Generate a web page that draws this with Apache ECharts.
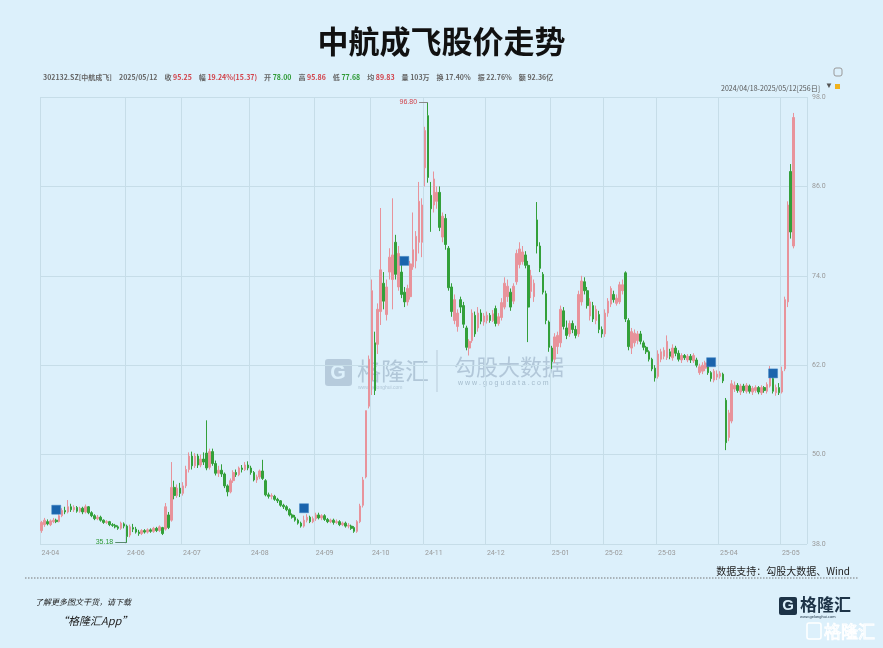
<!DOCTYPE html>
<html><head><meta charset="utf-8">
<script src="https://cdn.jsdelivr.net/npm/echarts@6/dist/echarts.min.js"></script>
<style>html,body{margin:0;padding:0;background:#dcf0fb;}#c{width:883px;height:648px;}</style>
</head><body><div id="c"></div>
<script>
// ---------- DATA ----------
const titleText = '中航成飞股价走势';
const startDate = '2024-04-18';
const endDate = '2025-05-12';
// exchange closures that fall on weekdays
const holidays = ['2024-05-01','2024-05-02','2024-05-03','2024-06-10','2024-09-16','2024-09-17',
  '2024-10-01','2024-10-02','2024-10-03','2024-10-04','2024-10-07','2025-01-01',
  '2025-01-28','2025-01-29','2025-01-30','2025-01-31','2025-02-03','2025-02-04',
  '2025-04-04','2025-05-01','2025-05-02','2025-05-05'];
// [open, close, low, high]
const candles = [
// 2024-04
[39.8,40.9,39.5,41.1],[40.6,41.2,40.3,41.5],[41.0,40.7,40.5,41.3],[40.6,41.1,40.4,41.3],[41.0,41.2,40.8,41.5],
[41.2,41.0,40.8,41.4],[41.0,41.8,40.9,42.0],[41.8,42.5,41.6,42.8],[42.5,42.3,42.0,43.0],
// 2024-05
[42.3,43.0,42.1,43.9],[43.0,42.6,42.3,43.4],[42.6,42.9,42.3,43.2],[42.9,42.4,42.2,43.1],[42.4,42.8,42.2,43.0],
[42.8,42.3,42.0,43.0],[42.3,43.0,42.1,43.3],[43.0,42.2,42.0,43.1],[42.2,41.8,41.6,42.4],[41.8,41.4,41.2,42.0],
[41.4,41.6,41.2,41.9],[41.6,41.2,41.0,41.8],[41.2,40.9,40.7,41.3],[40.9,41.0,40.7,41.2],[41.0,40.6,40.4,41.1],
[40.6,40.5,40.3,40.8],[40.5,40.3,40.1,40.7],[40.3,40.1,39.9,40.5],[40.1,40.8,39.9,41.0],[40.7,40.4,40.1,40.9],
// 2024-06
[40.4,39.0,38.2,40.6],[39.2,40.3,38.9,40.6],[40.2,40.0,39.6,40.7],[40.0,39.6,39.4,40.3],[39.6,39.4,39.1,39.9],
[39.4,39.8,39.2,40.0],[39.8,39.6,39.4,40.0],[39.6,39.9,39.4,40.1],[39.9,39.7,39.5,40.1],[39.7,40.1,39.5,40.3],
[40.1,39.8,39.6,40.3],[39.8,40.3,39.6,40.5],[40.2,39.4,39.2,40.3],[40.0,43.0,39.8,43.5],[41.9,40.2,40.0,42.3],
[41.2,45.6,41.0,49.0],[45.6,44.5,44.0,46.5],[44.5,45.5,44.2,46.0],[45.5,44.8,44.3,46.2],
// 2024-07
[44.8,45.8,44.5,46.3],[45.8,48.0,45.5,48.5],[48.0,49.8,47.6,50.3],[49.8,48.5,48.0,50.4],[48.5,49.8,48.2,50.2],
[49.8,48.6,48.2,50.1],[48.6,49.4,48.3,50.0],[49.4,49.0,48.6,50.3],[50.2,48.2,47.9,54.6],[48.3,50.4,48.0,50.8],
[50.4,48.8,48.5,50.8],[48.8,47.5,47.2,49.2],[47.5,47.9,47.0,48.5],[47.9,47.4,47.0,48.7],[47.4,45.8,45.5,47.6],
[45.8,45.0,44.4,46.0],[45.0,46.5,44.8,46.8],[46.5,47.6,46.2,47.9],[47.6,47.3,47.0,48.0],[47.3,48.2,47.1,48.4],
[48.2,48.0,47.6,48.6],[48.0,48.6,47.8,49.0],[48.6,48.2,47.9,49.1],
// 2024-08
[48.2,47.6,47.3,48.5],[47.6,46.6,46.4,47.8],[46.6,47.0,46.2,47.3],[47.0,47.8,46.7,48.0],[47.8,46.8,46.6,49.3],
[46.5,44.6,44.4,46.7],[44.6,44.4,44.1,44.9],[44.4,44.5,44.0,44.8],[44.4,44.0,43.8,44.6],[44.0,43.8,43.5,44.2],
[43.8,43.2,43.0,43.9],[43.2,43.0,42.7,43.4],[43.0,42.6,42.4,43.2],[42.6,41.9,41.7,42.8],[41.9,41.6,41.4,42.1],
[41.6,41.2,41.0,41.9],[41.2,40.8,40.6,41.4],[40.8,40.4,40.2,41.0],[40.4,41.2,40.2,41.8],[41.2,41.6,40.9,42.0],
[41.6,41.0,40.8,41.8],[41.0,41.4,40.8,41.7],
// 2024-09
[41.4,41.9,41.1,42.2],[41.9,41.5,41.3,42.2],[41.5,41.8,41.2,42.0],[41.8,41.3,41.1,42.0],[41.3,41.0,40.8,41.5],
[41.0,41.2,40.8,41.4],[41.2,40.9,40.6,41.4],[40.9,41.0,40.7,41.3],[41.0,40.6,40.4,41.2],[40.6,40.8,40.4,41.0],
[40.8,40.4,40.2,41.0],[40.4,40.5,40.1,40.8],[40.4,40.1,39.9,40.6],[40.2,39.7,39.5,40.4],[39.7,41.0,39.5,41.2],
[41.0,43.1,40.8,43.4],[43.2,46.6,42.9,47.0],[47.0,55.9,46.8,55.9],[56.5,62.8,56.2,63.3],
// 2024-10
[60.0,72.0,58.0,73.5],[65.0,58.6,58.0,66.5],[64.8,69.5,63.5,70.3],[69.2,74.8,67.4,83.1],[73.0,70.6,69.5,74.5],
[68.8,72.5,68.0,73.5],[74.5,76.5,73.5,77.7],[73.5,76.8,69.5,84.4],[78.5,74.2,73.5,79.5],[72.5,77.0,72.0,78.0],
[74.5,71.5,71.0,75.5],[71.8,70.5,69.8,72.5],[70.5,72.3,70.0,72.8],[71.2,75.6,70.8,76.0],[75.2,77.5,74.8,82.5],
[76.0,79.3,75.0,80.0],[78.5,84.0,77.0,86.6],[78.5,83.5,76.5,84.4],
// 2024-11
[88.5,93.5,86.0,94.0],[95.5,87.2,86.5,97.3],[84.8,83.0,79.9,86.6],[83.5,87.0,82.5,88.0],[84.0,85.2,83.0,86.0],
[85.2,80.5,80.0,86.0],[79.2,82.0,78.5,82.5],[81.7,78.2,77.5,82.3],[77.7,72.4,72.0,78.0],[72.5,69.2,68.5,73.0],
[68.0,70.8,67.5,71.5],[67.2,69.0,66.5,69.5],[70.8,69.8,69.0,71.2],[70.0,67.5,67.0,70.5],[67.0,64.4,64.0,67.3],
[64.3,65.2,63.3,65.5],[65.3,69.0,65.0,69.5],[68.7,66.2,65.8,69.2],[67.0,69.0,66.5,69.8],[69.0,67.9,67.5,69.5],
[67.8,68.6,67.3,69.0],
// 2024-12
[68.0,68.7,67.6,69.2],[68.7,68.0,67.7,69.0],[68.0,68.9,67.8,69.4],[69.6,67.6,67.2,70.0],[67.6,68.5,67.3,69.0],
[68.4,70.4,68.0,71.0],[69.8,73.0,69.5,73.8],[71.2,72.6,70.5,73.5],[71.8,69.8,69.3,72.3],[70.6,72.6,70.2,73.0],
[73.2,77.0,72.8,77.5],[75.5,77.6,75.0,78.5],[75.9,77.2,75.5,78.0],[76.8,75.4,75.0,77.3],[75.4,69.8,65.1,76.0],
[71.9,74.0,71.0,74.8],[71.2,73.0,70.5,73.5],[81.5,78.0,77.0,83.9],[78.0,75.0,74.5,78.5],[74.2,71.8,71.5,74.5],
[71.6,68.0,67.5,72.0],[67.8,64.4,63.8,68.0],
// 2025-01
[64.3,62.5,61.5,64.6],[62.8,65.8,62.3,66.3],[64.5,66.0,63.5,66.5],[65.0,69.5,64.4,70.0],[69.3,67.2,66.8,69.8],
[67.0,66.0,65.5,68.0],[66.2,67.6,65.8,68.0],[67.6,66.8,66.3,68.0],[66.8,66.0,65.6,67.3],[66.2,71.5,65.8,72.0],
[70.5,73.3,70.0,74.0],[73.2,72.0,71.5,73.8],[72.0,70.0,69.6,72.5],[68.6,70.5,68.0,71.0],[70.0,68.2,67.8,70.5],
[68.0,69.5,67.5,70.0],[68.8,66.8,66.3,69.3],[66.8,66.2,65.7,67.2],
// 2025-02
[66.2,69.0,65.8,69.5],[69.0,70.6,68.5,71.0],[70.2,72.3,69.8,72.6],[71.5,70.8,70.4,72.0],[70.3,71.0,70.0,71.5],
[70.5,72.8,70.2,73.2],[72.0,72.8,71.5,73.5],[74.4,68.2,67.8,74.6],[68.0,64.5,64.0,68.3],[64.3,66.5,63.5,67.0],
[65.0,66.3,64.5,66.8],[65.3,66.2,64.8,66.6],[66.2,65.2,64.8,66.6],[65.0,64.4,64.0,65.3],[64.4,63.8,63.5,64.6],
[63.8,62.8,62.5,64.0],[62.8,61.5,61.2,63.0],[61.6,60.3,59.8,62.0],
// 2025-03
[60.5,63.5,60.2,64.0],[62.8,63.8,62.4,64.2],[63.2,64.0,62.8,64.4],[63.0,65.2,62.7,66.0],[63.8,63.2,62.8,64.2],
[63.0,64.3,62.6,64.8],[64.3,63.6,63.2,64.6],[63.6,62.8,62.5,64.0],[62.7,63.3,62.3,63.6],[63.3,63.0,62.7,63.5],
[62.7,63.2,62.4,63.5],[63.2,62.7,62.3,63.5],[62.6,63.3,62.3,63.6],[62.7,62.0,61.7,63.0],[61.0,61.8,60.7,62.2],
[61.2,62.0,60.8,62.4],[61.6,62.3,61.2,62.6],[61.8,61.0,60.7,62.0],[61.0,60.2,59.8,61.2],[60.0,61.2,59.7,61.5],
[60.4,60.8,60.0,61.3],
// 2025-04
[60.5,60.9,60.2,61.2],[60.8,59.9,59.6,61.0],[57.3,51.6,50.6,57.6],[52.3,55.6,51.8,56.0],[54.5,59.5,54.2,60.0],
[58.8,59.3,58.4,59.8],[59.3,58.6,58.3,59.6],[58.4,59.2,58.0,59.5],[59.2,58.6,58.3,59.5],[58.5,59.3,58.2,59.6],
[59.2,58.5,58.2,59.4],[58.4,58.9,58.0,59.2],[58.6,59.0,58.3,59.3],[59.0,58.4,58.1,59.2],[58.3,59.0,58.0,59.3],
[59.0,58.6,58.3,59.2],[58.5,59.4,58.2,59.7],[59.2,61.3,59.0,61.9],[60.2,58.5,58.2,60.4],[58.3,59.0,57.9,59.4],
[59.0,58.3,58.0,59.6],
// 2025-05
[58.4,61.2,58.2,61.8],[61.5,70.8,61.2,71.2],[70.5,83.5,69.8,84.0],[88.0,79.88,79.0,89.0],[78.00,95.25,77.68,95.86]
];
// event markers [dayIndex, price]
const eventMarks = [[5,42.6],[89,42.8],[123,76.0],[227,62.4],[248,60.9]];
const peakMark = {from: 128, to: 131, price: 97.3, text: '96.80'};
const lowMark = {from: 25, to: 29, price: 38.2, text: '35.18'};
const yMin = 38, yMax = 98, yStep = 12;
// header info: [label, value, colour key]
const headerItems = [
  ['302132.SZ[中航成飞]','', 'n'], ['2025/05/12','', 'n'],
  ['收','95.25','r'], ['幅','19.24%(15.37)','r'], ['开','78.00','g'], ['高','95.86','r'],
  ['低','77.68','g'], ['均','89.83','r'], ['量','103万','n'], ['换','17.40%','n'],
  ['振','22.76%','n'], ['额','92.36亿','n']
];
const rangeText = '2024/04/18-2025/05/12[256日]';
const sourceText = '数据支持：勾股大数据、Wind';
const promoLine1 = '了解更多图文干货，请下载';
const promoLine2 = '“格隆汇App”';

// ---------- BUILD ----------
const holidaySet = new Set(holidays);
const dates = [];
{
  const d = new Date(startDate + 'T00:00:00Z');
  const end = new Date(endDate + 'T00:00:00Z');
  while (d <= end) {
    const s = d.toISOString().slice(0, 10);
    const wd = d.getUTCDay();
    if (wd !== 0 && wd !== 6 && !holidaySet.has(s)) dates.push(s);
    d.setUTCDate(d.getUTCDate() + 1);
  }
}
const padCount = 4;
const categories = dates.concat(new Array(padCount).fill(''));
const shown = new Set();
{
  let last = -100;
  dates.forEach((s, i) => {
    const first = i === 0 || dates[i - 1].slice(0, 7) !== s.slice(0, 7);
    if (first && i - last >= 15) { shown.add(i); last = i; }
  });
}
const showFn = (i) => shown.has(i);

const headerRich = headerItems.map(([l, v, c]) => {
  let s = '{n|' + l + '}';
  if (v) s += ' {' + c + '|' + v + '}';
  return s;
}).join('{sp| }');

const chart = echarts.init(document.getElementById('c'), null, {renderer: 'canvas'});
const CJK = '"Noto Sans CJK SC","Noto Sans",sans-serif';
const UP = '#e8939b', DOWN = '#33a03a';

chart.setOption({
  backgroundColor: '#dcf0fb',
  animation: false,
  title: [
    {text: titleText, left: 'center', top: 21,
     textStyle: {fontFamily: CJK, fontSize: 31, fontWeight: 'bold', color: '#111'}},
    {text: headerRich, left: 38, top: 69,
     textStyle: {fontFamily: CJK, fontSize: 7, rich: {
       n: {color: '#666', fontSize: 7, fontFamily: CJK},
       r: {color: '#d2434b', fontSize: 7, fontFamily: CJK},
       g: {color: '#2f9a36', fontSize: 7, fontFamily: CJK},
       sp: {width: 7, fontSize: 7}}}},
    {text: rangeText, right: 58, top: 80,
     textStyle: {fontFamily: CJK, fontSize: 7, color: '#555', fontWeight: 'normal'}},
    {text: sourceText, right: 28, top: 561,
     textStyle: {fontFamily: CJK, fontSize: 10, color: '#222', fontWeight: 'normal'}},
    {text: promoLine1, left: 30, top: 593,
     textStyle: {fontFamily: CJK, fontSize: 8, color: '#222', fontStyle: 'italic', fontWeight: 'normal'}},
    {text: promoLine2, left: 52, top: 610,
     textStyle: {fontFamily: CJK, fontSize: 11, color: '#222', fontStyle: 'italic', fontWeight: 'normal'}}
  ],
  grid: {left: 40, top: 97, width: 767, height: 447, containLabel: false},
  xAxis: {
    type: 'category', data: categories, boundaryGap: true,
    axisLine: {show: false}, axisTick: {show: false},
    axisLabel: {interval: showFn, formatter: v => v ? v.slice(2, 7) : '',
      fontSize: 7, color: '#999', align: 'left', margin: 6, fontFamily: 'Roboto'},
    splitLine: {show: true, interval: showFn, lineStyle: {color: '#c6dde8', width: 1}}
  },
  yAxis: {
    type: 'value', position: 'right', min: yMin, max: yMax, interval: yStep,
    axisLine: {show: false}, axisTick: {show: false},
    axisLabel: {formatter: v => v.toFixed(1), fontSize: 7, color: '#999', margin: 5, fontFamily: 'Roboto'},
    splitLine: {show: true, lineStyle: {color: '#c6dde8', width: 1}}
  },
  graphic: [
    {type: 'text', left: 825, top: 82, style: {text: '▼', fill: '#555', font: '8px sans-serif'}},
    {type: 'rect', shape: {x: 835, y: 84, width: 5, height: 5}, style: {fill: '#f0b21c'}},
    {type: 'rect', shape: {x: 834, y: 68, width: 8, height: 8, r: 2}, style: {fill: 'none', stroke: '#999', lineWidth: 1}},
    {type: 'group', z: 0, silent: true, children: [
      {type: 'rect', shape: {x: 325, y: 359, width: 27, height: 27, r: 3}, style: {fill: '#a9bfd1', opacity: 0.75}},
      {type: 'text', style: {x: 338, y: 373, text: 'G', fill: '#dcf0fb', font: 'bold 20px sans-serif', align: 'center', verticalAlign: 'middle'}},
      {type: 'text', style: {x: 357, y: 371, text: '格隆汇', fill: '#a9bfd1', font: '24px ' + CJK, verticalAlign: 'middle', opacity: 0.85}},
      {type: 'text', style: {x: 358, y: 385, text: 'www.gelonghui.com', fill: '#a9bfd1', font: '5px sans-serif', opacity: 0.85}},
      {type: 'line', shape: {x1: 437, y1: 350, x2: 437, y2: 392}, style: {stroke: '#b8cbd9', lineWidth: 1}},
      {type: 'text', style: {x: 454, y: 367, text: '勾股大数据', fill: '#aac0d2', font: '22px ' + CJK, verticalAlign: 'middle', opacity: 0.85}},
      {type: 'text', style: {x: 458, y: 380, text: 'w w w . g o g u d a t a . c o m', fill: '#9fb6c8', font: '7px sans-serif', opacity: 0.9}}
    ]},
    {type: 'line', shape: {x1: 25, y1: 578, x2: 858, y2: 578}, style: {stroke: '#777', lineWidth: 1, lineDash: [1.5, 1.5]}},
    {type: 'group', children: [
      {type: 'rect', shape: {x: 779, y: 597, width: 18, height: 18, r: 2}, style: {fill: '#1d3347'}},
      {type: 'text', style: {x: 788, y: 606, text: 'G', fill: '#dcf0fb', font: 'bold 15px sans-serif', align: 'center', verticalAlign: 'middle'}},
      {type: 'text', style: {x: 800, y: 605, text: '格隆汇', fill: '#1d3347', font: 'bold 17px ' + CJK, verticalAlign: 'middle'}},
      {type: 'text', style: {x: 800, y: 615, text: 'www.gelonghui.com', fill: '#1d3347', font: '4px sans-serif'}},
      {type: 'rect', shape: {x: 807, y: 623, width: 14, height: 16, r: 2}, style: {fill: 'none', stroke: '#ffffff', lineWidth: 1.5}},
      {type: 'text', style: {x: 824, y: 632, text: '格隆汇', fill: 'none', stroke: '#ffffff', lineWidth: 1, font: '17px ' + CJK, verticalAlign: 'middle'}}
    ]}
  ],
  series: [
    {
      type: 'candlestick', data: candles, barWidth: '72%',
      itemStyle: {color: UP, color0: DOWN, borderColor: UP, borderColor0: DOWN, borderWidth: 1},
      markLine: {
        silent: true, symbol: ['none', 'none'], animation: false,
        lineStyle: {type: 'solid', width: 1},
        data: [
          [{coord: [peakMark.from, peakMark.price], lineStyle: {color: '#888'},
            label: {show: true, position: 'start', formatter: peakMark.text, color: '#d2434b', fontSize: 7, distance: 2}},
           {coord: [peakMark.to, peakMark.price]}],
          [{coord: [lowMark.from, lowMark.price], lineStyle: {color: '#5a8a70'},
            label: {show: true, position: 'start', formatter: lowMark.text, color: '#2f9a36', fontSize: 7, distance: 2}},
           {coord: [lowMark.to, lowMark.price]}]
        ]
      }
    },
    {
      type: 'scatter', data: eventMarks, symbol: 'rect', symbolSize: 9, z: 5,
      itemStyle: {color: '#1a64ad', opacity: 1, borderColor: '#3f82c2', borderWidth: 0.5}
    }
  ]
});
</script></body></html>
